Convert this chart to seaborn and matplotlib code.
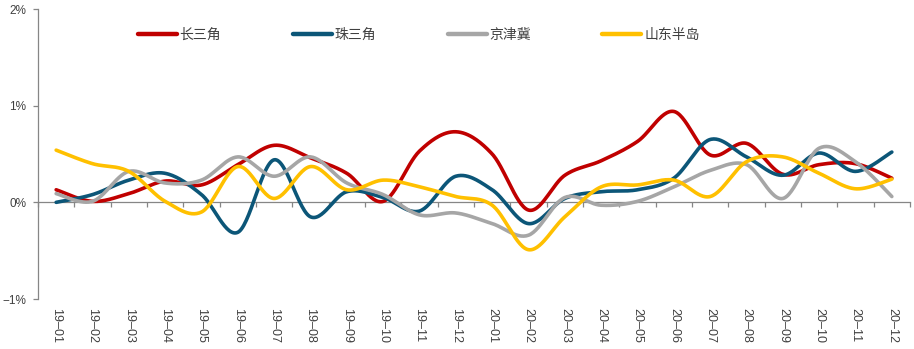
import numpy as np
import pandas as pd
import matplotlib
matplotlib.use("Agg")
import matplotlib.pyplot as plt
from matplotlib.lines import Line2D
from matplotlib.ticker import FixedLocator, NullFormatter
import seaborn as sns

months = ["19–01", "19–02", "19–03", "19–04", "19–05", "19–06", "19–07", "19–08",
          "19–09", "19–10", "19–11", "19–12", "20–01", "20–02", "20–03", "20–04",
          "20–05", "20–06", "20–07", "20–08", "20–09", "20–10", "20–11", "20–12"]

# monthly change, %
yangtze = [0.13, 0.01, 0.09, 0.22, 0.18, 0.39, 0.59, 0.46, 0.30, 0.01, 0.53, 0.73,
           0.50, -0.08, 0.28, 0.43, 0.63, 0.94, 0.49, 0.61, 0.29, 0.39, 0.40, 0.25]
pearl = [0.00, 0.08, 0.23, 0.30, 0.08, -0.31, 0.44, -0.15, 0.11, 0.05, -0.09, 0.27,
         0.13, -0.22, 0.04, 0.11, 0.13, 0.25, 0.65, 0.47, 0.28, 0.51, 0.32, 0.52]
jingjinji = [0.09, 0.01, 0.32, 0.20, 0.23, 0.47, 0.27, 0.47, 0.20, 0.08, -0.13, -0.11,
             -0.22, -0.34, 0.05, -0.03, 0.01, 0.16, 0.33, 0.39, 0.04, 0.56, 0.42, 0.06]
shandong = [0.54, 0.40, 0.32, 0.01, -0.10, 0.37, 0.04, 0.37, 0.13, 0.23, 0.16, 0.06,
            -0.03, -0.49, -0.15, 0.16, 0.18, 0.23, 0.06, 0.42, 0.47, 0.30, 0.14, 0.24]

series_names = ["长三角", "珠三角", "京津冀", "山东半岛"]
series_values = [yangtze, pearl, jingjinji, shandong]
colors = ["#C00000", "#0C5678", "#A6A6A6", "#FFC000"]


def smooth_curve(values, steps=30):
    """Cubic Bezier smoothing through every point (Catmull-Rom control points)."""
    p = np.asarray(values, dtype=float)
    x = np.arange(len(p), dtype=float)
    pts = np.column_stack([x, p])
    ext = np.vstack([pts[0], pts, pts[-1]])
    out = []
    t = np.linspace(0, 1, steps, endpoint=False)[:, None]
    for i in range(len(pts) - 1):
        p0, p1, p2, p3 = ext[i], ext[i + 1], ext[i + 2], ext[i + 3]
        c1 = p1 + (p2 - p0) / 6.0
        c2 = p2 - (p3 - p1) / 6.0
        seg = ((1 - t) ** 3) * p1 + 3 * ((1 - t) ** 2) * t * c1 \
            + 3 * (1 - t) * t ** 2 * c2 + t ** 3 * p2
        out.append(seg)
    out.append(pts[-1][None, :])
    return np.vstack(out)


frames = []
for name, vals in zip(series_names, series_values):
    c = smooth_curve(vals)
    frames.append(pd.DataFrame({"x": c[:, 0], "y": c[:, 1], "region": name}))
df = pd.concat(frames, ignore_index=True)

sns.set_style("white")
plt.rcParams["font.family"] = ["Liberation Sans", "Noto Sans CJK SC", "DejaVu Sans"]
plt.rcParams["axes.unicode_minus"] = True

fig = plt.figure(figsize=(9.14, 3.49), dpi=100)
ax = fig.add_axes([38 / 914, 1 - 299 / 349, 872 / 914, 290 / 349])

sns.lineplot(data=df, x="x", y="y", hue="region", hue_order=series_names,
             palette=colors, linewidth=2.6, sort=False, estimator=None,
             legend=False, ax=ax)

n = len(months)
ax.set_xlim(-0.5, n - 0.5)
ax.set_ylim(-1, 2)

axis_gray = "#868686"
text_gray = "#404040"

# y axis
for s in ["top", "right", "bottom"]:
    ax.spines[s].set_visible(False)
ax.spines["left"].set_color(axis_gray)
ax.spines["left"].set_linewidth(0.9)
ax.set_yticks([-1, 0, 1, 2])
ax.set_yticklabels(["−1%", "0%", "1%", "2%"])
ax.tick_params(axis="y", direction="out", length=3.5, width=0.9, color=axis_gray,
               pad=5, labelsize=8.5, labelcolor=text_gray, left=True)

# category labels along the bottom
ax.set_xticks(np.arange(n))
ax.set_xticklabels(months, rotation=-90, va="top", ha="center")
ax.tick_params(axis="x", length=0, pad=6.5, labelsize=9, labelcolor=text_gray,
               bottom=True)
ax.set_xlabel("")
ax.set_ylabel("")
ax.grid(False)

# category axis line through zero with boundary ticks
zero_frac = (0 - (-1)) / (2 - (-1))
sec = ax.secondary_xaxis(zero_frac)
sec.spines["bottom"].set_color(axis_gray)
sec.spines["bottom"].set_linewidth(0.9)
sec.xaxis.set_major_locator(FixedLocator(np.arange(n + 1) - 0.5))
sec.xaxis.set_major_formatter(NullFormatter())
sec.tick_params(axis="x", direction="out", length=3.5, width=0.9, color=axis_gray)

handles = [Line2D([0], [0], color=c, lw=3.2, solid_capstyle="round") for c in colors]
fig.legend(handles, series_names, loc="center left", bbox_to_anchor=(138 / 914, 1 - 35 / 349),
           ncol=4, frameon=False, fontsize=10, handlelength=2.8, handletextpad=0.2,
           columnspacing=5.15, borderpad=0, borderaxespad=0, labelcolor=text_gray)

fig.savefig("out.png", dpi=100, facecolor="white")
